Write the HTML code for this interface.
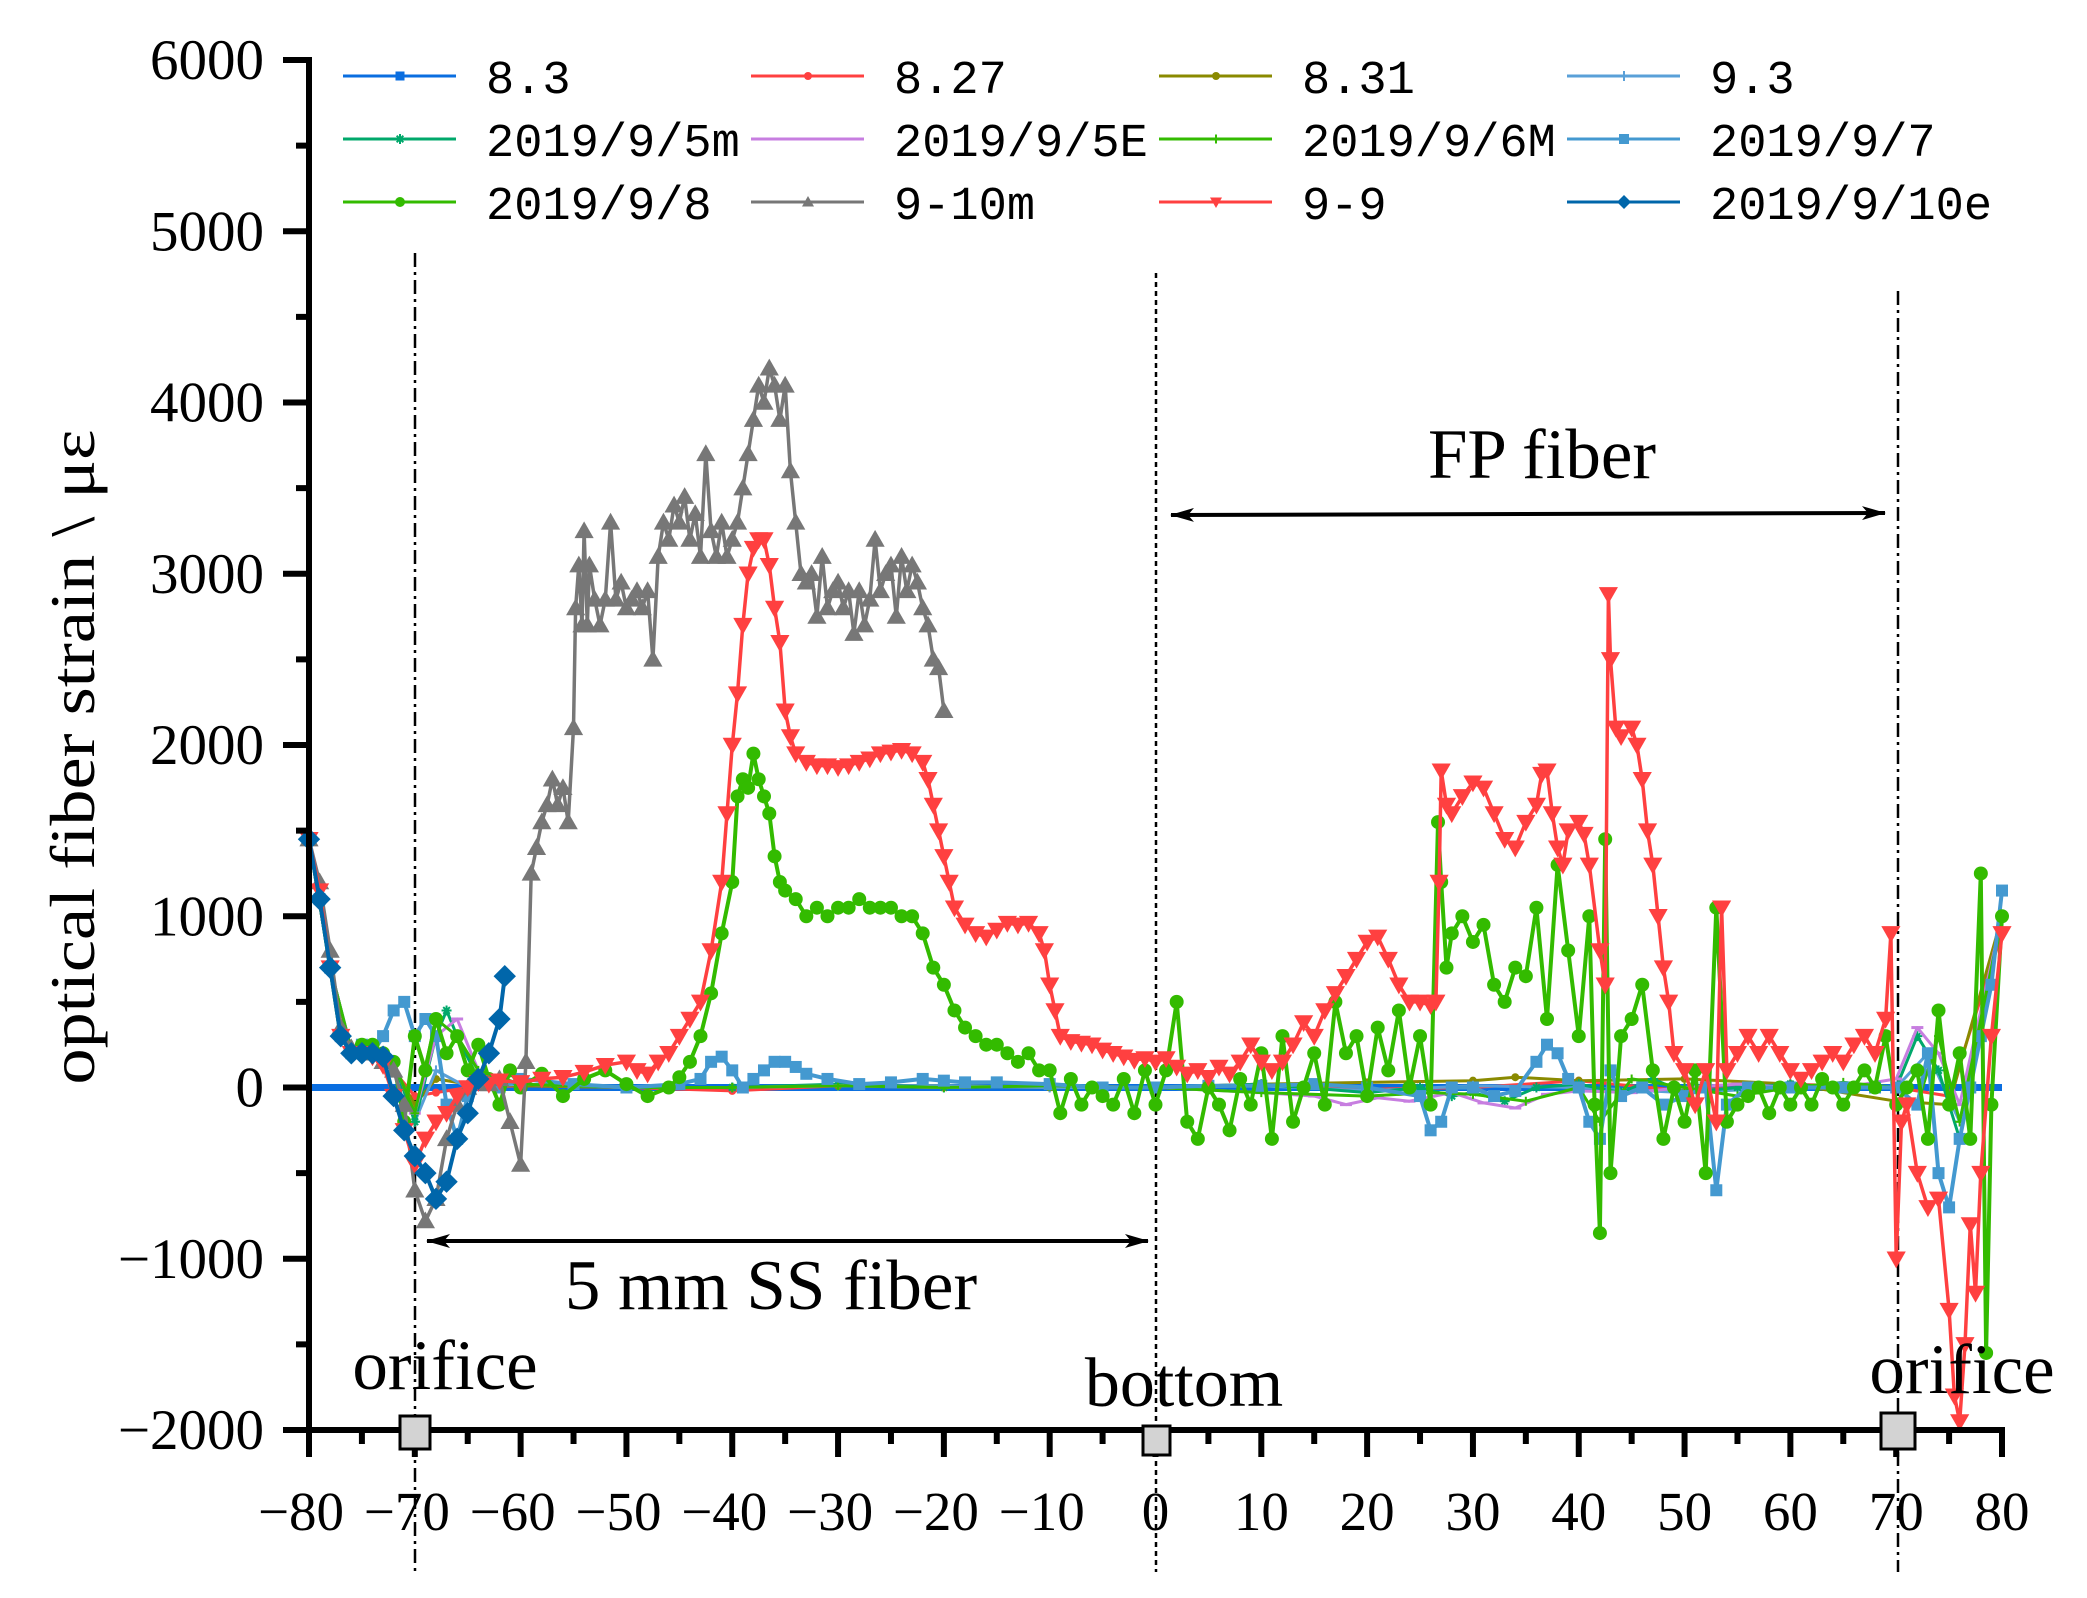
<!DOCTYPE html>
<html><head><meta charset="utf-8">
<style>
html,body{margin:0;padding:0;background:#fff;}
svg{display:block;}
text{font-family:"Liberation Serif","DejaVu Serif",serif;fill:#000;}
.leg{font-family:"Liberation Mono","DejaVu Sans Mono",monospace;font-size:47px;}
</style></head>
<body>
<svg id="chart" width="2087" height="1598" viewBox="0 0 2087 1598" xmlns="http://www.w3.org/2000/svg">
<g id="dashes">
<line x1="415" y1="253" x2="415" y2="1572" stroke="#000" stroke-width="2.5" stroke-dasharray="14,5,3,5"/>
<line x1="1156" y1="273" x2="1156" y2="1572" stroke="#000" stroke-width="2.5" stroke-dasharray="5,4"/>
<line x1="1898" y1="291" x2="1898" y2="1572" stroke="#000" stroke-width="2.5" stroke-dasharray="14,5,3,5"/>
</g>
<g id="series"></g>
<g id="axes"></g>
<g>
<defs><marker id="ah" viewBox="0 0 24 14" refX="23" refY="7" markerWidth="24" markerHeight="14" markerUnits="userSpaceOnUse" orient="auto-start-reverse"><path d="M0,0 L24,7 L0,14 L6,7 z" fill="#000"/></marker></defs>
<line x1="1171" y1="515" x2="1885" y2="513" stroke="#000" stroke-width="4" marker-start="url(#ah)" marker-end="url(#ah)"/>
<text x="1542" y="478" font-size="71" text-anchor="middle">FP fiber</text>
<line x1="427" y1="1241" x2="1148" y2="1241" stroke="#000" stroke-width="4" marker-start="url(#ah)" marker-end="url(#ah)"/>
<text x="771" y="1309" font-size="71" text-anchor="middle">5 mm SS fiber</text>
<text x="445" y="1389" font-size="71" text-anchor="middle">orifice</text>
<text x="1184" y="1406" font-size="70" text-anchor="middle">bottom</text>
<text x="1962" y="1393" font-size="71" text-anchor="middle">orifice</text>
<rect x="400" y="1416" width="30" height="33" fill="#d3d3d3" stroke="#000" stroke-width="3"/>
<rect x="1143" y="1426" width="27" height="29" fill="#d3d3d3" stroke="#000" stroke-width="3"/>
<rect x="1881" y="1413" width="34" height="36" fill="#d3d3d3" stroke="#000" stroke-width="3"/>
</g>
<text transform="translate(94,757) rotate(-90)" font-size="64" text-anchor="middle" textLength="655" lengthAdjust="spacingAndGlyphs">optical fiber strain \ με</text>
<g id="legend"></g>
</svg>
<script>
// ---- data ----
const xTicks = [-80,-70,-60,-50,-40,-30,-20,-10,0,10,20,30,40,50,60,70,80];
const yTicks = [-2000,-1000,0,1000,2000,3000,4000,5000,6000];

const s83_x = [-80,-70,-60,-40,-20,0,20,40,60,70,80];
const s83_y = [0,0,0,0,0,0,0,0,0,0,0];

const s827_x = [-80,-78,-76,-74,-72,-70,-68,-65,-60,-50,-40,-30,-20,-10,0,10,20,30,40,50,60,70,75,80];
const s827_y = [1450,700,200,200,100,-50,-30,0,10,0,-20,10,0,10,0,20,-10,0,40,-20,20,0,-50,900];

const s831_x = [-80,-78,-76,-74,-72,-70,-68,-65,-60,-50,-40,-30,-20,-10,0,10,20,30,34,40,50,60,70,75,80];
const s831_y = [1450,700,220,200,120,-100,50,20,10,0,0,10,10,0,0,20,30,40,60,40,50,20,-80,-100,1000];

const s93_x = [-80,-78,-76,-74,-72,-70,-68,-65,-60,-50,-40,-30,-20,-10,0,10,20,30,40,50,60,70,73,76,80];
const s93_y = [1450,700,220,200,150,-200,100,0,20,0,0,10,10,0,0,10,-20,10,0,-30,0,0,200,-200,1000];

const s5m_x = [-80,-78,-76,-74,-72,-70,-68,-67,-66,-64,-60,-50,-40,-30,-20,-10,0,10,20,25,28,30,33,36,40,44,47,50,55,60,65,70,72,74,76,80];
const s5m_y = [1450,700,220,200,150,-200,300,450,300,50,20,0,0,20,0,10,0,20,-30,0,-50,-30,-80,0,20,-30,50,-30,0,20,0,0,300,100,-300,1000];

const s5E_x = [-80,-78,-76,-74,-72,-70,-68,-66,-64,-60,-50,-40,-30,-20,-10,0,10,15,18,21,24,28,31,34,37,40,45,50,55,60,65,70,72,74,76,80];
const s5E_y = [1450,700,220,200,150,-150,300,400,100,20,0,0,10,0,10,0,-30,-50,-100,-60,-80,-30,-90,-120,-40,-20,-30,0,20,0,0,50,350,200,-100,1000];

const s6M_x = [-80,-78,-76,-74,-72,-70,-68,-66,-64,-60,-50,-40,-30,-20,-10,0,10,20,26,30,35,40,42,45,50,55,60,65,70,72,74,76,80];
const s6M_y = [1450,700,220,200,150,-150,400,300,100,20,0,0,10,0,10,0,-30,-50,-30,-40,-80,0,-200,50,0,-50,0,30,0,-100,300,-200,1000];

const s97_x = [-80,-79,-78,-77,-76,-75,-74,-73,-72,-71,-70,-69,-68,-67,-66,-65,-64,-62,-60,-55,-50,-45,-43,-42,-41,-40,-39,-38,-37,-36,-35,-34,-33,-31,-28,-25,-22,-20,-18,-15,-10,-5,0,5,10,15,20,25,26,27,28,30,32,34,36,37,38,39,40,41,42,43,44,46,48,50,52,53,54,56,60,65,68,70,72,73,74,75,76,77,78,79,80];
const s97_y = [1450,1100,700,300,200,250,200,300,450,500,300,400,300,-100,-300,-50,50,0,50,20,0,20,50,150,180,100,0,50,100,150,150,120,80,50,20,30,50,40,30,30,20,0,0,10,10,20,0,-50,-250,-200,0,0,-50,-20,150,250,200,50,0,-200,-300,100,-50,0,-100,-50,0,-600,-100,0,0,0,0,0,-100,200,-500,-700,-300,0,300,600,1150];

const s98_x = [-80,-79,-78,-77,-76,-75,-74,-73,-72,-71,-70,-69,-68,-67,-66,-65,-64,-63,-62,-61,-60,-58,-56,-54,-52,-50,-48,-46,-45,-44,-43,-42,-41,-40,-39.5,-39,-38.5,-38,-37.5,-37,-36.5,-36,-35.5,-35,-34,-33,-32,-31,-30,-29,-28,-27,-26,-25,-24,-23,-22,-21,-20,-19,-18,-17,-16,-15,-14,-13,-12,-11,-10,-9,-8,-7,-6,-5,-4,-3,-2,-1,0,1,2,3,4,5,6,7,8,9,10,11,12,13,14,15,16,17,18,19,20,21,22,23,24,25,26,26.7,27,27.5,28,29,30,31,32,33,34,35,36,37,38,39,40,41,41.5,42,42.5,43,44,45,46,47,48,49,50,51,52,53,54,55,56,57,58,59,60,61,62,63,64,65,66,67,68,69,70,71,72,73,74,75,76,77,78,78.5,79,80];
const s98_y = [1450,1100,700,300,200,250,250,200,150,-200,300,100,400,200,300,100,250,50,-100,100,0,80,-50,50,100,20,-50,0,60,150,300,550,900,1200,1700,1800,1750,1950,1800,1700,1600,1350,1200,1150,1100,1000,1050,1000,1050,1050,1100,1050,1050,1050,1000,1000,900,700,600,450,350,300,250,250,200,150,200,100,100,-150,50,-100,0,-50,-100,50,-150,100,-100,100,500,-200,-300,0,-100,-250,50,-100,200,-300,300,-200,0,200,-100,500,200,300,-50,350,100,450,0,300,-100,1550,1200,700,900,1000,850,950,600,500,700,650,1050,400,1300,800,300,1000,-100,-850,1450,-500,300,400,600,100,-300,0,-200,100,-500,1050,-200,-100,-50,0,-150,0,-100,0,-100,50,0,-100,0,100,0,300,-100,0,100,-300,450,-100,200,-300,1250,-1550,-100,1000];

const s910m_x = [-80,-79,-78,-77,-76,-75,-74,-73,-72,-71,-70,-69,-68,-67,-66,-65,-64,-63,-62,-61,-60,-59.5,-59,-58.5,-58,-57.5,-57,-56.5,-56,-55.5,-55,-54.8,-54.5,-54.2,-54,-53.7,-53.5,-53,-52.5,-52,-51.5,-51,-50.5,-50,-49.5,-49,-48.5,-48,-47.5,-47,-46.5,-46,-45.5,-45,-44.5,-44,-43.5,-43,-42.5,-42,-41.5,-41,-40.5,-40,-39.5,-39,-38.5,-38,-37.5,-37,-36.5,-36,-35.5,-35,-34.5,-34,-33.5,-33,-32.5,-32,-31.5,-31,-30.5,-30,-29.5,-29,-28.5,-28,-27.5,-27,-26.5,-26,-25.5,-25,-24.5,-24,-23.5,-23,-22.5,-22,-21.5,-21,-20.5,-20];
const s910m_y = [1450,1200,800,350,230,210,200,150,100,-100,-600,-780,-650,-300,-100,0,30,20,50,-200,-450,150,1250,1400,1550,1650,1800,1650,1750,1550,2100,2800,3050,2700,3250,2700,3050,2850,2700,2850,3300,2850,2950,2800,2850,2900,2800,2900,2500,3100,3300,3200,3400,3300,3450,3200,3350,3100,3700,3250,3100,3300,3100,3200,3300,3500,3700,3900,4100,4000,4200,4100,3900,4100,3600,3300,3000,2950,3000,2750,3100,2800,2900,2950,2800,2900,2650,2900,2700,2850,3200,2900,3000,3050,2750,3100,2900,3050,2950,2800,2700,2500,2450,2200];

const s99_x = [-80,-79,-78,-77,-76,-75,-74,-73,-72,-71,-70,-69,-68,-67,-66,-65,-64,-63,-62,-60,-58,-56,-54,-52,-50,-49,-48,-47,-46,-45,-44,-43,-42,-41,-40.5,-40,-39.5,-39,-38.5,-38,-37.5,-37,-36.5,-36,-35.5,-35,-34.5,-34,-33,-32,-31,-30,-29,-28,-27,-26,-25,-24,-23,-22,-21.5,-21,-20.5,-20,-19.5,-19,-18,-17,-16,-15,-14,-13,-12,-11,-10.5,-10,-9.5,-9,-8,-7,-6,-5,-4,-3,-2,-1,0,1,2,3,4,5,6,7,8,9,10,11,12,13,14,15,16,17,18,19,20,21,22,23,24,25,26,26.5,26.8,27,27.5,28,29,30,31,32,33,34,35,36,36.5,37,37.5,38,38.5,39,40,40.5,41,42,42.5,42.8,43,43.5,44,45,45.5,46,46.5,47,47.5,48,48.5,49,50,51,52,53,53.5,54,55,56,57,58,59,60,61,62,63,64,65,66,67,68,69,69.5,70,70.5,71,72,73,74,75,75.5,76,76.5,77,77.5,78,79,80];
const s99_y = [1450,1150,700,300,200,200,180,130,-50,-250,-450,-300,-200,-150,-50,0,30,20,40,30,50,60,90,130,150,100,80,150,200,300,400,500,800,1200,1600,2000,2300,2700,3000,3150,3200,3200,3050,2800,2600,2200,2050,1950,1900,1880,1880,1870,1880,1900,1920,1950,1960,1970,1950,1900,1800,1650,1500,1350,1200,1050,950,900,880,920,960,950,960,900,800,600,450,300,270,260,250,220,200,180,160,170,150,170,120,80,100,60,120,80,150,250,150,100,150,250,380,300,450,550,650,750,850,880,750,600,500,500,480,500,1200,1850,1650,1600,1700,1780,1750,1600,1450,1400,1550,1650,1830,1850,1600,1400,1300,1500,1550,1480,1300,800,600,2880,2500,2100,2050,2100,2000,1800,1500,1300,1000,700,500,200,100,-100,100,-200,1050,100,200,300,200,300,200,100,50,100,150,200,150,250,300,200,400,900,-1000,-200,-100,-500,-700,-650,-1300,-1800,-1950,-1500,-800,-1200,-500,300,900];

const s910e_x = [-80,-79,-78,-77,-76,-75,-74,-73,-72,-71,-70,-69,-68,-67,-66,-65,-64,-63,-62,-61.5];
const s910e_y = [1450,1100,700,300,200,200,200,180,-50,-250,-400,-500,-650,-550,-300,-150,50,200,400,650];

const seriesNames = ["8.3","8.27","8.31","9.3","2019/9/5m","2019/9/5E","2019/9/6M","2019/9/7","2019/9/8","9-10m","9-9","2019/9/10e"];

// ---- scales ----
const X0=309, X1=2002, Y0=1430, Y1=60;
function sx(v){return X0+(v+80)/160*(X1-X0);}
function sy(v){return Y0-(v+2000)/8000*(Y0-Y1);}

const NS="http://www.w3.org/2000/svg";
function mk(tag,attrs,parent){const e=document.createElementNS(NS,tag);for(const k in attrs)e.setAttribute(k,attrs[k]);parent.appendChild(e);return e;}

function markerShape(type,x,y,s,color,parent){
  let e;
  if(type==="sq"){e=mk("rect",{x:x-s/2,y:y-s/2,width:s,height:s,fill:color},parent);}
  else if(type==="circ"){e=mk("circle",{cx:x,cy:y,r:s/2,fill:color},parent);}
  else if(type==="tu"){e=mk("polygon",{points:`${x},${y-s*0.6} ${x-s*0.6},${y+s*0.45} ${x+s*0.6},${y+s*0.45}`,fill:color},parent);}
  else if(type==="td"){e=mk("polygon",{points:`${x},${y+s*0.6} ${x-s*0.6},${y-s*0.45} ${x+s*0.6},${y-s*0.45}`,fill:color},parent);}
  else if(type==="dia"){e=mk("polygon",{points:`${x},${y-s*0.7} ${x+s*0.7},${y} ${x},${y+s*0.7} ${x-s*0.7},${y}`,fill:color},parent);}
  else if(type==="star"){e=mk("path",{d:`M${x-s/2},${y}h${s}M${x},${y-s/2}v${s}M${x-s/3},${y-s/3}l${s*2/3},${s*2/3}M${x+s/3},${y-s/3}l${-s*2/3},${s*2/3}`,stroke:color,"stroke-width":2,fill:"none"},parent);}
  else if(type==="dash"){e=mk("path",{d:`M${x-s/2},${y}h${s}`,stroke:color,"stroke-width":3},parent);}
  else if(type==="plus"){e=mk("path",{d:`M${x-s/2},${y}h${s}M${x},${y-s/2}v${s}`,stroke:color,"stroke-width":2},parent);}
  else if(type==="pent"){e=mk("circle",{cx:x,cy:y,r:s/2,fill:color},parent);}
  return e;
}

const gS=document.getElementById("series");
const defs=[
 [s83_x,s83_y,"#0a6ee0","sq",7,9],
 [s827_x,s827_y,"#ff4040","circ",3,8],
 [s831_x,s831_y,"#8a8a00","pent",3,8],
 [s93_x,s93_y,"#5aa0d8","plus",3,10],
 [s5m_x,s5m_y,"#00a86b","star",3,10],
 [s5E_x,s5E_y,"#c77ee0","dash",3,12],
 [s6M_x,s6M_y,"#33bb00","plus",3,9],
 [s97_x,s97_y,"#4499d0","sq",4,12],
 [s98_x,s98_y,"#33bb00","circ",4,14],
 [s910m_x,s910m_y,"#777777","tu",3.5,16],
 [s99_x,s99_y,"#ff4040","td",3.5,16],
 [s910e_x,s910e_y,"#0066aa","dia",4,16]
];
defs.forEach((d,i)=>{
  const g=mk("g",{},gS);
  
  
  const pts=d[0].map((x,j)=>sx(x).toFixed(1)+","+sy(d[1][j]).toFixed(1)).join(" ");
  const pl=mk("polyline",{points:pts,fill:"none",stroke:d[2],"stroke-width":d[4],"stroke-linejoin":"round"},g);
  
  
  if(i>0){
    d[0].forEach((x,j)=>{
      const m=markerShape(d[3],sx(x),sy(d[1][j]),d[5],d[2],g);
      
      
    });
  }
});

// ---- axes ----
const gA=document.getElementById("axes");
const ya=mk("line",{x1:X0,y1:Y1-3,x2:X0,y2:Y0+3,stroke:"#000","stroke-width":6},gA);


const xa=mk("line",{x1:X0-3,y1:Y0,x2:X1+3,y2:Y0,stroke:"#000","stroke-width":6},gA);


yTicks.forEach(v=>{
  const t=mk("line",{x1:X0-26,y1:sy(v),x2:X0,y2:sy(v),stroke:"#000","stroke-width":6},gA);
  
  
  if(v<6000){const m=mk("line",{x1:X0-13,y1:sy(v+500),x2:X0,y2:sy(v+500),stroke:"#000","stroke-width":6},gA);
  
  }
  const lb=mk("text",{x:X0-45,y:sy(v)+19,"font-size":57,"text-anchor":"end"},gA);
  lb.textContent=(v<0?"\u2212":"")+Math.abs(v);
  
  
});
xTicks.forEach(v=>{
  const t=mk("line",{x1:sx(v),y1:Y0,x2:sx(v),y2:Y0+27,stroke:"#000","stroke-width":6},gA);
  
  
  if(v<80){const m=mk("line",{x1:sx(v+5),y1:Y0,x2:sx(v+5),y2:Y0+14,stroke:"#000","stroke-width":6},gA);
  
  }
  const lb=mk("text",{x:sx(v)-(v<0?8:0),y:1530,"font-size":55,"text-anchor":"middle"},gA);
  lb.textContent=(v<0?"\u2212":"")+Math.abs(v);
  
  
});

// ---- legend ----
const gL=document.getElementById("legend");
const colX=[343,751,1159,1567], rowY=[76,139,202];
defs.forEach((d,i)=>{
  const c=i%4, r=Math.floor(i/4);
  const g=mk("g",{},gL);
  
  
  mk("line",{x1:colX[c],y1:rowY[r],x2:colX[c]+113,y2:rowY[r],stroke:d[2],"stroke-width":3},g);
  markerShape(d[3],colX[c]+57,rowY[r],Math.min(d[5],10),d[2],g);
  const t=mk("text",{x:colX[c]+143,y:rowY[r]+17,"class":"leg"},g);
  t.textContent=seriesNames[i].replace(/^(\d)\.(\d)/,"$1.$2");
});
</script>
</body></html>
